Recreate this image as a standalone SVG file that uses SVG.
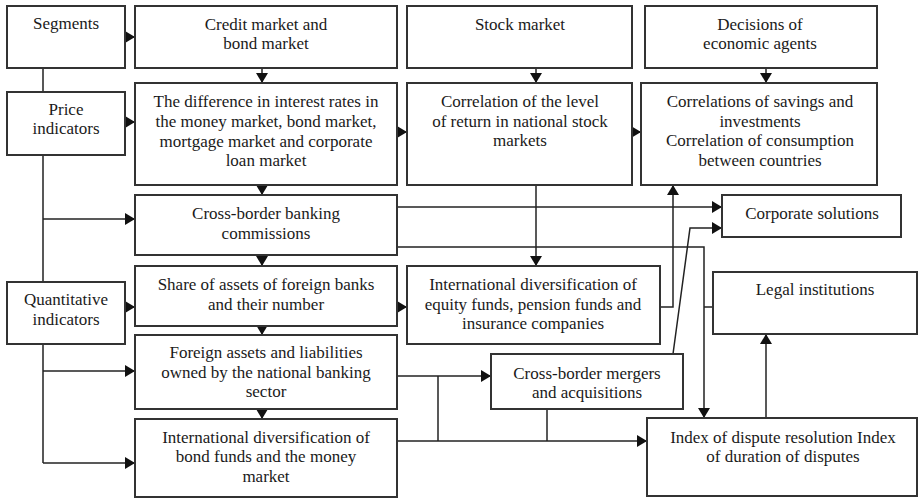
<svg xmlns="http://www.w3.org/2000/svg" width="918" height="499" viewBox="0 0 918 499">
<defs>
<marker id="ah" markerUnits="userSpaceOnUse" markerWidth="10" markerHeight="12" refX="10" refY="6" orient="auto">
<path d="M0,0 L10,6 L0,12 z" fill="#111"/>
</marker>
<style>
.b{fill:#fff;stroke:#333;stroke-width:2}
.t{font-family:"Liberation Serif","Times New Roman",serif;font-size:17px;fill:#1a1a1a;text-anchor:middle}
.c{fill:none;stroke:#222;stroke-width:1.5}
.a{marker-end:url(#ah)}
</style>
</defs>
<rect width="918" height="499" fill="#fff"/>
<g id="connectors">
<path class="c a" d="M125,37 H135"/>
<path class="c a" d="M125,122 H135"/>
<path class="c a" d="M397,132 H407"/>
<path class="c a" d="M632,132 H641"/>
<path class="c a" d="M262,68 V83"/>
<path class="c a" d="M536,68 V83"/>
<path class="c a" d="M766,68 V83"/>
<path class="c a" d="M262,185 V195"/>
<path class="c a" d="M262,255 V266"/>
<path class="c a" d="M262,326 V335"/>
<path class="c a" d="M262,409 V419"/>
<path class="c" d="M43,68 V92 M43,155 V282 M43,344 V463"/>
<path class="c a" d="M43,219 H135"/>
<path class="c a" d="M43,371 H135"/>
<path class="c a" d="M43,463 H135"/>
<path class="c a" d="M125,307 H135"/>
<path class="c a" d="M397,307 H407"/>
<path class="c a" d="M536,185 V266"/>
<path class="c a" d="M397,207 H722"/>
<path class="c a" d="M397,247 H704 V418"/>
<path class="c" d="M704,307 H713"/>
<path class="c a" d="M660,307 H673 V185"/>
<path class="c a" d="M673,354 L690,228 H722"/>
<path class="c a" d="M397,376 H491"/>
<path class="c" d="M438,376 V441"/>
<path class="c a" d="M397,441 H647"/>
<path class="c" d="M547,409 V441"/>
<path class="c a" d="M766,418 V334"/>
</g>
<g id="segments"><rect class="b" x="7" y="6" width="118" height="62"/><text class="t" x="66" y="29">Segments</text></g>
<g id="credit"><rect class="b" x="135" y="6" width="262" height="62"/><text class="t" x="266" y="30">Credit market and</text><text class="t" x="266" y="49">bond market</text></g>
<g id="stock"><rect class="b" x="407" y="6" width="225" height="62"/><text class="t" x="520" y="30">Stock market</text></g>
<g id="decisions"><rect class="b" x="645" y="6" width="232" height="62"/><text class="t" x="760" y="30">Decisions of</text><text class="t" x="760" y="49">economic agents</text></g>
<g id="price"><rect class="b" x="7" y="92" width="118" height="63"/><text class="t" x="66" y="115">Price</text><text class="t" x="66" y="134">indicators</text></g>
<g id="difference"><rect class="b" x="135" y="83" width="262" height="102"/><text class="t" x="266" y="107">The difference in interest rates in</text><text class="t" x="266" y="127">the money market, bond market,</text><text class="t" x="266" y="147">mortgage market and corporate</text><text class="t" x="266" y="166">loan market</text></g>
<g id="corrlevel"><rect class="b" x="407" y="83" width="225" height="102"/><text class="t" x="520" y="107">Correlation of the level</text><text class="t" x="520" y="127">of return in national stock</text><text class="t" x="520" y="146">markets</text></g>
<g id="savings"><rect class="b" x="641" y="83" width="236" height="102"/><text class="t" x="760" y="107">Correlations of savings and</text><text class="t" x="760" y="127">investments</text><text class="t" x="760" y="146">Correlation of consumption</text><text class="t" x="760" y="166">between countries</text></g>
<g id="crossborder"><rect class="b" x="135" y="195" width="262" height="60"/><text class="t" x="266" y="219">Cross-border banking</text><text class="t" x="266" y="239">commissions</text></g>
<g id="corporate"><rect class="b" x="722" y="195" width="179" height="42"/><text class="t" x="812" y="219">Corporate solutions</text></g>
<g id="share"><rect class="b" x="135" y="266" width="262" height="60"/><text class="t" x="266" y="290">Share of assets of foreign banks</text><text class="t" x="266" y="310">and their number</text></g>
<g id="quantitative"><rect class="b" x="7" y="282" width="118" height="62"/><text class="t" x="66" y="305">Quantitative</text><text class="t" x="66" y="325">indicators</text></g>
<g id="equity"><rect class="b" x="407" y="266" width="253" height="78"/><text class="t" x="533" y="290">International diversification of</text><text class="t" x="533" y="310">equity funds, pension funds and</text><text class="t" x="533" y="329">insurance companies</text></g>
<g id="legal"><rect class="b" x="713" y="272" width="204" height="62"/><text class="t" x="815" y="295">Legal institutions</text></g>
<g id="foreign"><rect class="b" x="135" y="335" width="262" height="74"/><text class="t" x="266" y="358">Foreign assets and liabilities</text><text class="t" x="266" y="378">owned by the national banking</text><text class="t" x="266" y="397">sector</text></g>
<g id="mergers"><rect class="b" x="491" y="354" width="192" height="55"/><text class="t" x="587" y="379">Cross-border mergers</text><text class="t" x="587" y="398">and acquisitions</text></g>
<g id="bond"><rect class="b" x="135" y="419" width="262" height="78"/><text class="t" x="266" y="443">International diversification of</text><text class="t" x="266" y="462">bond funds and the money</text><text class="t" x="266" y="482">market</text></g>
<g id="dispute"><rect class="b" x="647" y="418" width="270" height="78"/><text class="t" x="783" y="443">Index of dispute resolution Index</text><text class="t" x="783" y="462">of duration of disputes</text></g>
</svg>
